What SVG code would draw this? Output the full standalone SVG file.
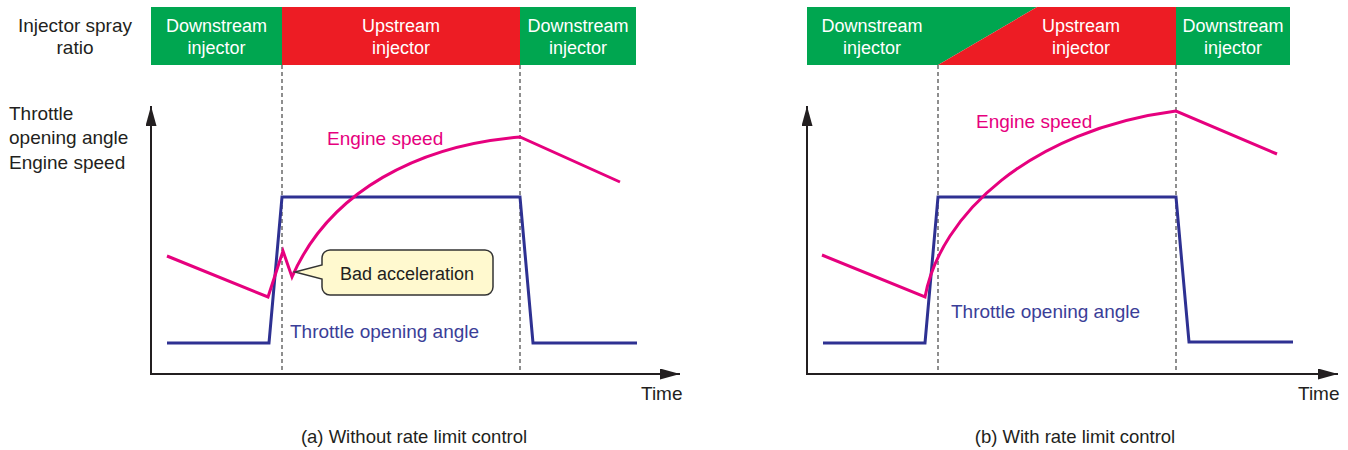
<svg xmlns="http://www.w3.org/2000/svg" width="1348" height="450" viewBox="0 0 1348 450">
<style>
text{font-family:"Liberation Sans",Arial,sans-serif;}
.lbl{font-size:19px;fill:#231f20;}
.bar{font-size:18px;fill:#ffffff;text-anchor:middle;}
.pinkt{font-size:19px;fill:#e6007e;}
.bluet{font-size:19px;fill:#3b3e98;}
.cap{font-size:18.5px;fill:#231f20;text-anchor:middle;}
.axis{stroke:#231f20;stroke-width:2;fill:none;}
.dash{stroke:#444;stroke-width:1.2;stroke-dasharray:4 3;fill:none;}
.thr{stroke:#2e3192;stroke-width:3;fill:none;stroke-linejoin:miter;}
.eng{stroke:#e6007e;stroke-width:3;fill:none;stroke-linejoin:miter;}
.green{fill:#00a650;}
.red{fill:#ed1c24;}
</style>
<defs>
<marker id="arr" viewBox="0 0 20 11" refX="20" refY="5.5" markerWidth="20" markerHeight="11" markerUnits="userSpaceOnUse" orient="auto">
<path d="M0,0 L20,5.5 L0,11 Z" fill="#231f20"/>
</marker>
</defs>
<rect width="1348" height="450" fill="#ffffff"/>

<g id="left-labels">
<text class="lbl" x="75" y="32" text-anchor="middle">Injector spray</text>
<text class="lbl" x="75" y="54" text-anchor="middle">ratio</text>
<text class="lbl" x="9" y="120">Throttle</text>
<text class="lbl" x="9" y="144">opening angle</text>
<text class="lbl" x="9" y="169">Engine speed</text>
</g>

<g id="bar-a">
<rect class="green" x="151" y="7" width="131" height="58"/>
<rect class="red" x="282" y="7" width="238" height="58"/>
<rect class="green" x="520" y="7" width="116" height="58"/>
<text class="bar" x="216.5" y="32">Downstream</text>
<text class="bar" x="216.5" y="54">injector</text>
<text class="bar" x="401" y="32">Upstream</text>
<text class="bar" x="401" y="54">injector</text>
<text class="bar" x="578" y="32">Downstream</text>
<text class="bar" x="578" y="54">injector</text>
</g>

<g id="bar-b">
<polygon class="green" points="807,7 1037,7 938,65 807,65"/>
<polygon class="red" points="1037,7 1176,7 1176,65 938,65"/>
<rect class="green" x="1176" y="7" width="114" height="58"/>
<text class="bar" x="872" y="32">Downstream</text>
<text class="bar" x="872" y="54">injector</text>
<text class="bar" x="1081" y="32">Upstream</text>
<text class="bar" x="1081" y="54">injector</text>
<text class="bar" x="1233" y="32">Downstream</text>
<text class="bar" x="1233" y="54">injector</text>
</g>

<g id="connectors">
<line class="dash" x1="282" y1="65" x2="282" y2="374"/>
<line class="dash" x1="520" y1="65" x2="520" y2="374"/>
<line class="dash" x1="938" y1="65" x2="938" y2="374"/>
<line class="dash" x1="1176" y1="65" x2="1176" y2="374"/>
<line class="axis" x1="151" y1="375" x2="151" y2="106" marker-end="url(#arr)"/>
<line class="axis" x1="150" y1="374" x2="680" y2="374" marker-end="url(#arr)"/>
<line class="axis" x1="807" y1="375" x2="807" y2="106" marker-end="url(#arr)"/>
<line class="axis" x1="806" y1="374" x2="1338" y2="374" marker-end="url(#arr)"/>
</g>

<g id="plot-a">
<polyline class="thr" points="167,343 269,343 282,197 520,197 533,343 637,343"/>
<path class="eng" d="M167,256 L268,297 L283,251 L292,277 C330,190 420,145 520,137 L620,182"/>
<text class="pinkt" x="327" y="145">Engine speed</text>
<text class="bluet" x="290" y="338">Throttle opening angle</text>
</g>

<g id="callout">
<path d="M330,250 H485 A8,8 0 0 1 493,258 V287 A8,8 0 0 1 485,295 H330 A8,8 0 0 1 322,287 V279 L295,272 L322,265 V258 A8,8 0 0 1 330,250 Z" fill="#fff9cf" stroke="#333333" stroke-width="1.5"/>
<text x="407" y="280" text-anchor="middle" style="font-size:18px;fill:#231f20;">Bad acceleration</text>
</g>

<g id="plot-b">
<polyline class="thr" points="823,343 925,343 938,197 1176,197 1189,342 1293,342"/>
<path class="eng" d="M822,255 L925,297 C940,215 1030,130 1176,111 L1277,154"/>
<text class="pinkt" x="976" y="128">Engine speed</text>
<text class="bluet" x="951" y="318">Throttle opening angle</text>
</g>

<g id="axis-labels">
<text class="lbl" x="641" y="400">Time</text>
<text class="lbl" x="1298" y="400">Time</text>
<text class="cap" x="414" y="443">(a) Without rate limit control</text>
<text class="cap" x="1075" y="443">(b) With rate limit control</text>
</g>
</svg>
